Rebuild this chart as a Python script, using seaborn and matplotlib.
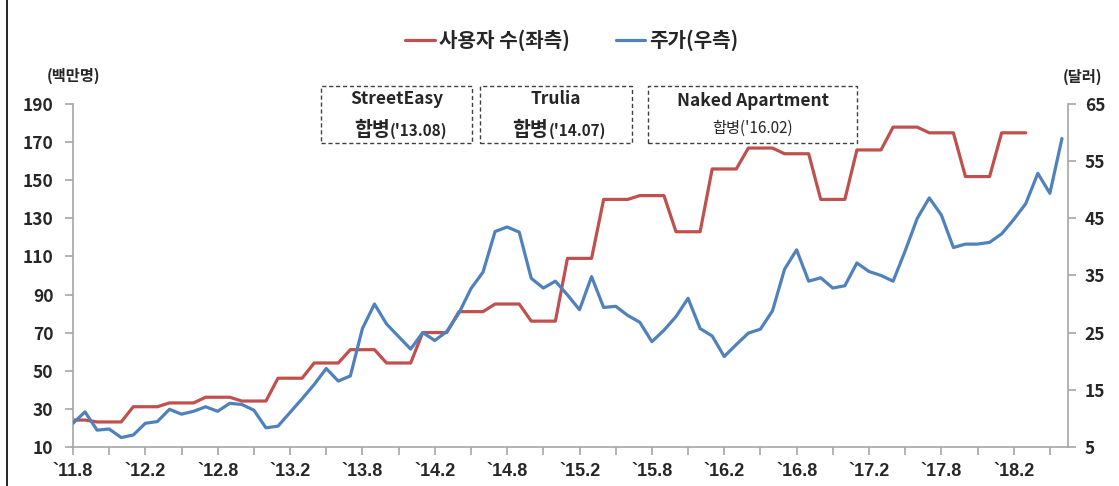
import numpy as np
import pandas as pd
import matplotlib
matplotlib.use("Agg")
import matplotlib.pyplot as plt
import seaborn as sns
from matplotlib.patches import Rectangle
from matplotlib.lines import Line2D

# ---------------- data ----------------
# monthly, starting Aug 2011 (index 0) to Jun 2018 (index 82)
users = [24, 24, 23, 23, 23, 31, 31, 31, 33, 33, 33, 36, 36, 36, 34, 34, 34,
         46, 46, 46, 54, 54, 54, 61, 61, 61, 54, 54, 54, 70, 70, 70, 81, 81, 81,
         85, 85, 85, 76, 76, 76, 109, 109, 109, 140, 140, 140, 142, 142, 142,
         123, 123, 123, 156, 156, 156, 167, 167, 167, 164, 164, 164, 140, 140, 140,
         166, 166, 166, 178, 178, 178, 175, 175, 175, 152, 152, 152, 175, 175, 175]
price = [9.1, 11.1, 7.9, 8.1, 6.6, 7.05, 9.1, 9.4, 11.55, 10.7, 11.2, 12.0, 11.2,
         12.6, 12.4, 11.4, 8.3, 8.6, 11.0, 13.4, 15.9, 18.7, 16.5, 17.4, 25.7,
         30.0, 26.5, 24.3, 22.1, 25.0, 23.6, 25.2, 28.4, 32.7, 35.6, 42.7, 43.5,
         42.6, 34.5, 32.8, 34.0, 31.6, 29.0, 34.8, 29.4, 29.6, 28.0, 26.8, 23.4,
         25.4, 27.8, 31.0, 25.7, 24.4, 20.8, 22.9, 24.9, 25.6, 28.8, 36.1, 39.5,
         34.0, 34.6, 32.8, 33.2, 37.2, 35.7, 35.0, 34.0, 39.3, 45.0, 48.6, 45.6,
         39.9, 40.5, 40.5, 40.8, 42.3, 44.8, 47.6, 52.9, 49.4, 59.0]
tick_labels = ["`11.8", "`12.2", "`12.8", "`13.2", "`13.8", "`14.2", "`14.8",
               "`15.2", "`15.8", "`16.2", "`16.8", "`17.2", "`17.8", "`18.2"]
legend_labels = ["사용자 수(좌측)", "주가(우측)"]
events = [("StreetEasy", "합병", "('13.08)"),
          ("Trulia", "합병", "('14.07)"),
          ("Naked Apartment", "합병", "('16.02)")]

df_users = pd.DataFrame({"m": np.arange(len(users)), "v": users})
df_price = pd.DataFrame({"m": np.arange(len(price)), "v": price})

# ---------------- style ----------------
sns.set_theme(style="white")
plt.rcParams["font.family"] = ["Noto Sans CJK KR", "DejaVu Sans"]
plt.rcParams["font.weight"] = "bold"

RED = "#C0504D"
BLUE = "#4F81BD"
GRAY = "#A6A6A6"

fig = plt.figure(figsize=(11.19, 4.86), dpi=100)
ax = fig.add_axes([0.0652, 0.0809, 0.9544 - 0.0652, 0.7854 - 0.0809])
ax2 = ax.twinx()

sns.lineplot(data=df_users, x="m", y="v", ax=ax, color=RED, linewidth=2.3,
             label=legend_labels[0], legend=False)
sns.lineplot(data=df_price, x="m", y="v", ax=ax2, color=BLUE, linewidth=2.3,
             label=legend_labels[1], legend=False)

ax.set_xlim(0, 82.5)
ax.set_ylim(10, 190)
ax2.set_ylim(5, 65)
ax.set_yticks(np.arange(10, 191, 20))
ax2.set_yticks(np.arange(5, 66, 10))
ax.set_xticks(np.arange(0, len(tick_labels) * 6, 6))
ax.set_xticklabels(tick_labels)
ax.set_xticks(np.arange(0, 83, 3), minor=True)
ax.set_xlabel("")
ax.set_ylabel("")
ax2.set_ylabel("")

for a in (ax, ax2):
    for s in a.spines.values():
        s.set_color(GRAY)
        s.set_linewidth(1.2)
    a.spines["top"].set_visible(False)
    a.grid(False)
ax.spines["right"].set_visible(False)
ax2.spines["left"].set_visible(False)
ax2.spines["bottom"].set_visible(False)

ax.tick_params(axis="y", which="major", direction="out", length=6, width=1.2,
               color=GRAY, labelsize=12.5, pad=8, left=True)
ax.tick_params(axis="x", which="both", direction="out", length=6, width=1.2,
               color=GRAY, labelsize=12.5, pad=6, bottom=True)
ax2.tick_params(axis="y", direction="out", length=6, width=1.2, color=GRAY,
                labelsize=12.5, pad=6, right=True)
for lab in ax.get_yticklabels() + ax2.get_yticklabels():
    lab.set_fontweight("bold")
for lab in ax.get_xticklabels():
    lab.set_fontweight("bold")
    lab.set_family(["Liberation Sans", "DejaVu Sans"])
    lab.set_fontsize(13)

# axis unit labels
fig.text(74 / 1119, 1 - 76 / 486, "(백만명)", ha="center", va="center",
         fontsize=11, fontweight="bold")
fig.text(1083 / 1119, 1 - 77 / 486, "(달러)", ha="center", va="center",
         fontsize=11, fontweight="bold")

# legend
h1, l1 = ax.get_legend_handles_labels()
h2, l2 = ax2.get_legend_handles_labels()
fig.legend(h1 + h2, l1 + l2, loc="center", bbox_to_anchor=(0.511, 1 - 40 / 486),
           ncol=2, frameon=False, prop={"size": 14.5, "weight": "bold"},
           handlelength=1.45, handletextpad=0.2, columnspacing=2.3)

# annotation boxes (pixel geometry)
boxes = [(320.7, 472.3), (480.0, 631.7), (648.3, 857.3)]
W, H = 1119, 486
for (x0, x1), (title, word, date), idx in zip(boxes, events, range(3)):
    rect = Rectangle((x0 / W, 1 - 142.7 / H), (x1 - x0) / W, 56.7 / H,
                     transform=fig.transFigure, fill=False, edgecolor="#404040",
                     linewidth=1.0, linestyle=(0, (3, 2)))
    fig.add_artist(rect)
    cx = (x0 + x1) / 2
    if idx < 2:
        fig.text(cx / W, 1 - 99 / H, title, ha="center", va="center",
                 fontsize=12.5, fontweight="bold")
        split = {0: 390.0, 1: 548.3}[idx]
        fig.text(split / W, 1 - 130 / H, word, ha="right", va="center",
                 fontsize=14, fontweight="bold")
        fig.text(split / W, 1 - 130.5 / H, date, ha="left", va="center",
                 fontsize=11, fontweight="bold")
    else:
        fig.text(cx / W, 1 - 101.5 / H, title, ha="center", va="center",
                 fontsize=12.5, fontweight="bold")
        fig.text(cx / W, 1 - 128 / H, word + date, ha="center", va="center",
                 fontsize=11, fontweight="normal")

# left border of the original image
fig.add_artist(Line2D([6.5 / W, 6.5 / W], [0, 1], transform=fig.transFigure,
                      color="black", linewidth=1.2))

fig.savefig("out.png", dpi=100)
